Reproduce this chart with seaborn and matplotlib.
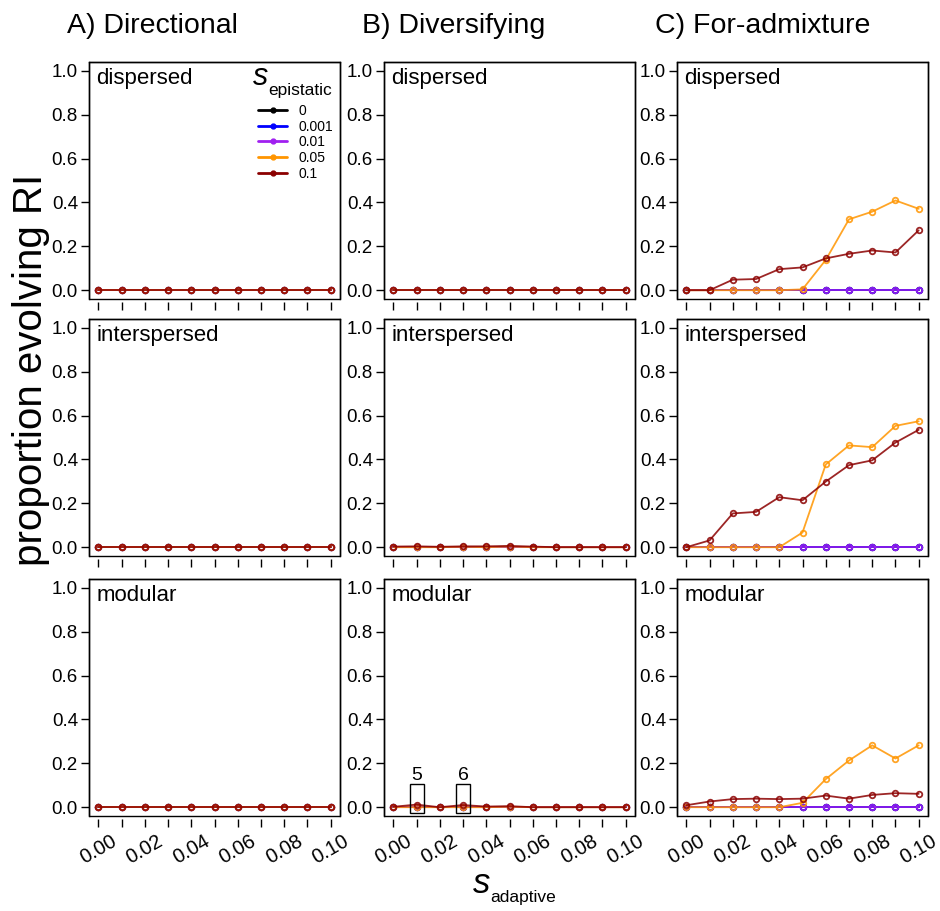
import matplotlib
matplotlib.use("Agg")
import matplotlib.pyplot as plt
import pandas as pd
import seaborn as sns
from matplotlib.patches import Rectangle
from matplotlib.lines import Line2D

# ---- data -------------------------------------------------------------
s_adaptive = [0.00, 0.01, 0.02, 0.03, 0.04, 0.05, 0.06, 0.07, 0.08, 0.09, 0.10]
x_tick_labels = ["0.00", "0.02", "0.04", "0.06", "0.08", "0.10"]
y_tick_labels = ["0.0", "0.2", "0.4", "0.6", "0.8", "1.0"]

epistatic_levels = ["0", "0.001", "0.01", "0.05", "0.1"]
level_colors = ["#000000", "#0000FF", "#A020F0", "#FF9500", "#8B0000"]

selection_regimes = ["A) Directional", "B) Diversifying", "C) For-admixture"]
architectures = ["dispersed", "interspersed", "modular"]

flat = [0.0] * 11

# Diversifying selection: tiny non-zero proportions only
div_inter_005 = [0.0, 0.0, 0.0, 0.002, 0.0, 0.003, 0.0, 0.0, 0.0, 0.0, 0.0]
div_inter_01 = [0.003, 0.004, 0.002, 0.004, 0.004, 0.006, 0.003, 0.0, 0.0, 0.0, 0.0]
div_mod_005 = [0.0, 0.0, 0.0, 0.0, 0.0, 0.002, 0.0, 0.0, 0.0, 0.0, 0.0]
div_mod_01 = [0.002, 0.012, 0.0, 0.010, 0.003, 0.005, 0.0, 0.0, 0.0, 0.0, 0.0]

# For-admixture selection
adm_disp_005 = [0.0, 0.0, 0.0, 0.0, 0.0, 0.004, 0.138, 0.323, 0.358, 0.409, 0.371]
adm_disp_01 = [0.0, 0.0, 0.048, 0.051, 0.096, 0.104, 0.145, 0.166, 0.181, 0.172, 0.273]
adm_inter_005 = [0.0, 0.0, 0.0, 0.0, 0.0, 0.067, 0.377, 0.464, 0.456, 0.553, 0.574]
adm_inter_01 = [0.0, 0.031, 0.154, 0.161, 0.228, 0.214, 0.299, 0.374, 0.396, 0.477, 0.535]
adm_mod_005 = [0.0, 0.0, 0.0, 0.0, 0.0, 0.020, 0.128, 0.213, 0.282, 0.222, 0.282]
adm_mod_01 = [0.009, 0.026, 0.037, 0.039, 0.037, 0.039, 0.053, 0.039, 0.056, 0.064, 0.061]

# results[regime][architecture] -> one series per epistatic level
results = {
    "A) Directional": {
        "dispersed": [flat, flat, flat, flat, flat],
        "interspersed": [flat, flat, flat, flat, flat],
        "modular": [flat, flat, flat, flat, flat],
    },
    "B) Diversifying": {
        "dispersed": [flat, flat, flat, flat, flat],
        "interspersed": [flat, flat, flat, div_inter_005, div_inter_01],
        "modular": [flat, flat, flat, div_mod_005, div_mod_01],
    },
    "C) For-admixture": {
        "dispersed": [flat, flat, flat, adm_disp_005, adm_disp_01],
        "interspersed": [flat, flat, flat, adm_inter_005, adm_inter_01],
        "modular": [flat, flat, flat, adm_mod_005, adm_mod_01],
    },
}

# highlighted replicate sets in the diversifying / modular panel
callout_x = [0.01, 0.03]
callout_labels = ["5", "6"]

# ---- style ------------------------------------------------------------
sns.set_style("white")
plt.rcParams["font.family"] = ["Liberation Sans", "DejaVu Sans"]
plt.rcParams["axes.linewidth"] = 1.0
plt.rcParams["text.color"] = "black"
plt.rcParams["axes.labelcolor"] = "black"
plt.rcParams["xtick.color"] = "black"
plt.rcParams["ytick.color"] = "black"

W, H = 940, 911
fig = plt.figure(figsize=(W / 100, H / 100), dpi=100)

col_left = [89, 384, 677]
row_top = [62, 319, 579]
ax_w, ax_h = 251, 237

palette = dict(zip(epistatic_levels, level_colors))

for ci, regime in enumerate(selection_regimes):
    for ri, arch in enumerate(architectures):
        left = col_left[ci] / W
        bottom = 1 - (row_top[ri] + ax_h) / H
        ax = fig.add_axes([left, bottom, ax_w / W, ax_h / H])
        # x ticks sit a little below the frame
        ax.spines["bottom"].set_position(("outward", 2))
        ax.spines["bottom"].set_visible(False)

        rows = []
        for lvl, series in zip(epistatic_levels, results[regime][arch]):
            for x, y in zip(s_adaptive, series):
                rows.append({"s_adaptive": x, "prop": y, "s_epistatic": lvl})
        df = pd.DataFrame(rows)

        sns.lineplot(data=df, x="s_adaptive", y="prop", hue="s_epistatic",
                     hue_order=epistatic_levels, palette=palette, marker="o",
                     markersize=4, linewidth=1.3, alpha=0.85, legend=False,
                     ax=ax)
        for line in ax.lines:
            c = line.get_color()
            line.set_markerfacecolor("none")
            line.set_markeredgecolor(c)
            line.set_markeredgewidth(1.3)

        ax.set_xlim(-0.004, 0.104)
        ax.set_ylim(-0.04, 1.04)
        ax.set_xlabel("")
        ax.set_ylabel("")

        ax.set_yticks([0.0, 0.2, 0.4, 0.6, 0.8, 1.0])
        ax.set_yticklabels(y_tick_labels, fontsize=13.5)
        ax.set_xticks(s_adaptive)
        if ri == 2:
            labels = []
            for i in range(len(s_adaptive)):
                labels.append(x_tick_labels[i // 2] if i % 2 == 0 else "")
            ax.set_xticklabels(labels, fontsize=14.5, rotation=30,
                               ha="center")
        else:
            ax.set_xticklabels([])

        ax.tick_params(axis="y", direction="out", length=6, width=1,
                       pad=2, left=True, colors="black")
        ax.tick_params(axis="x", direction="out", length=5.5, width=1,
                       pad=3.5, bottom=True, colors="black")
        for side in ["top", "left", "right"]:
            ax.spines[side].set_color("black")
        ax.add_patch(Rectangle((0, 0), 1, 1, transform=ax.transAxes,
                               fill=False, edgecolor="black", lw=1.0,
                               clip_on=False, zorder=5))

        ax.text(0.03, 0.975, arch, transform=ax.transAxes, fontsize=16,
                ha="left", va="top")

        if regime == "B) Diversifying" and arch == "modular":
            for cx, lab in zip(callout_x, callout_labels):
                ax.add_patch(Rectangle((cx - 0.003, -0.028), 0.006, 0.136,
                                       fill=False, edgecolor="black", lw=1.0,
                                       zorder=6))
                ax.text(cx, 0.122, lab, ha="center", va="baseline",
                        fontsize=14)

        if regime == "A) Directional" and arch == "dispersed":
            handles = [Line2D([], [], color=c, lw=2, marker="o",
                              markersize=3.5) for c in level_colors]
            ax.legend(handles, epistatic_levels, loc="upper left",
                      bbox_to_anchor=(258 / W, 1 - 104 / H),
                      bbox_transform=fig.transFigure, frameon=False,
                      fontsize=10, handlelength=2.1, handletextpad=0.8,
                      labelspacing=0.12, borderpad=0, borderaxespad=0)
            fig.text(253 / W, 1 - 85 / H, "s", fontsize=22, style="italic",
                     ha="left", va="baseline")
            fig.text(268 / W, 1 - 95 / H, "epistatic", fontsize=12.5,
                     ha="left", va="baseline")

    fig.text((col_left[ci] - 22) / W, 1 - 33 / H, regime, fontsize=20.5,
             ha="left", va="baseline")

fig.text(31 / W, 1 - 370 / H, "proportion evolving RI", fontsize=29,
         rotation=90, ha="center", va="center")
fig.text(473 / W, 1 - 893 / H, "s", fontsize=25, style="italic",
         ha="left", va="baseline")
fig.text(490 / W, 1 - 902 / H, "adaptive", fontsize=12.5,
         ha="left", va="baseline")

fig.savefig("out.png", dpi=100, facecolor="white")
